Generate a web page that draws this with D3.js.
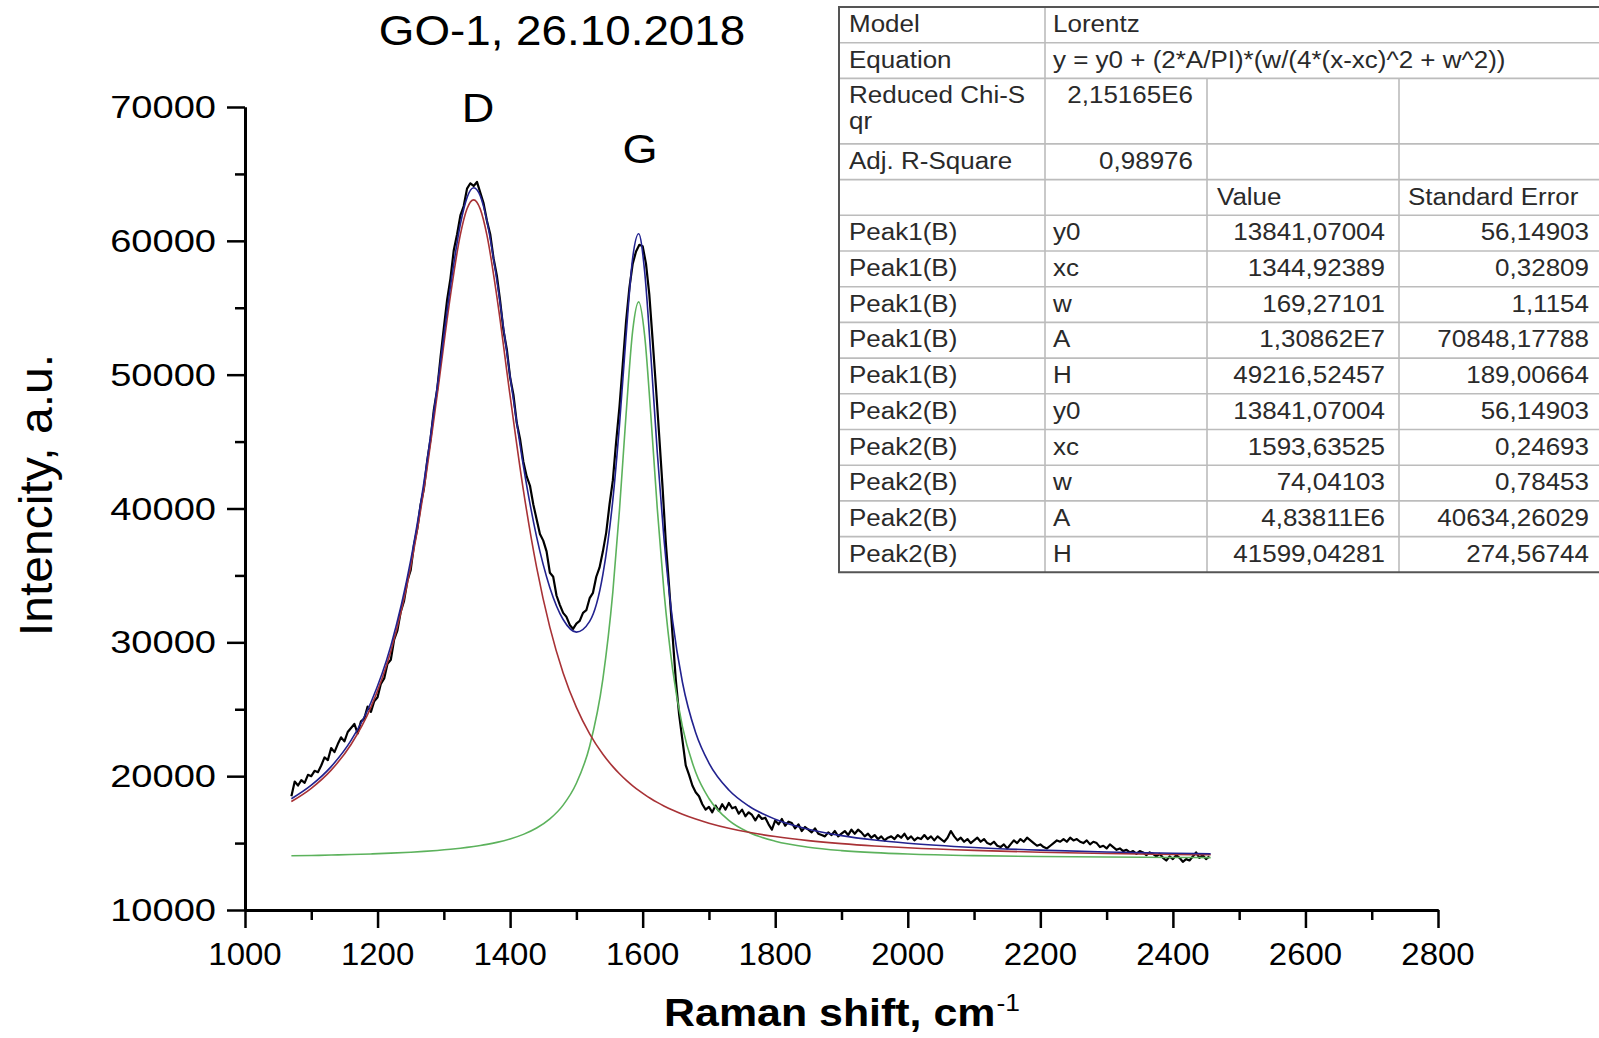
<!DOCTYPE html>
<html>
<head>
<meta charset="utf-8">
<script src="https://cdn.jsdelivr.net/npm/d3@7"></script>
<style>
  body { margin: 0; background: #fff; }
  text { font-family: "Liberation Sans", Arial, sans-serif; }
</style>
</head>
<body>
<div id="chart"></div>
<script>
// measured spectrum, one reading every 5 cm-1 from 1070
var shiftStart = 1070, shiftStep = 5;
var intensity = [
  18500, 19600, 19300, 19700, 19500, 20100, 20000, 20400, 20300, 20800,
  21400, 21200, 22100, 21800, 22400, 22900, 22600, 23300, 23600, 23900,
  23200, 24100, 24300, 25200, 24800, 25600, 25900, 26900, 27300, 28400,
  28700, 30200, 30900, 32300, 33100, 34600, 35400, 37300, 38500, 40300,
  41500, 43600, 45200, 47400, 48900, 51300, 53500, 55600, 57200, 59300,
  60500, 61900, 62600, 63900, 64300, 64100, 64400, 63600, 62800, 61500,
  60500, 58700, 57400, 55500, 53300, 51900, 49800, 48500, 46400, 45200,
  43500, 42400, 41700, 40300, 39200, 38100, 37600, 36800, 35200, 34900,
  33500, 32800, 32200, 31900, 31300, 31000, 31400, 31600, 32200, 32400,
  33300, 33700, 34900, 35600, 36800, 38200, 40300, 42100, 45000, 47600,
  50800, 54000, 56500, 58300, 59200, 59700, 59600, 58300, 56000, 52600,
  49100, 45400, 41600, 37400, 34100, 30600, 27200, 24600, 22700, 20800,
  20100, 19300, 18800, 18500, 17900, 17500, 17700, 17300, 17800, 17400,
  17900, 17500, 18000, 17600, 17700, 17200, 17500, 17000, 17300, 17100,
  16700, 17100, 16800, 16900, 16400, 16000, 16700, 16400, 16800, 16300,
  16600, 16500, 16100, 16400, 15900, 16200, 16000, 15800, 16100, 15700,
  15600, 15500, 15800, 15600, 15900, 15500, 15700, 15900, 15600, 16000,
  15700, 16000, 15800, 15500, 15700, 15400, 15600, 15300, 15500, 15200,
  15400, 15500, 15300, 15600, 15400, 15700, 15300, 15500, 15200, 15400,
  15300, 15600, 15300, 15500, 15200, 15500, 15300, 15100, 15400, 15900,
  15500, 15200, 15400, 15100, 15300, 15000, 15200, 15400, 15100, 15300,
  15000, 14900, 15100, 14800, 14700, 14900, 14600, 14900, 15200, 15000,
  15300, 15100, 15400, 15200, 15000, 14800, 14900, 14700, 14600, 14800,
  15000, 15200, 15100, 15300, 15100, 15400, 15200, 15300, 15100, 15000,
  15200, 14900, 15100, 15000, 14700, 14800, 14600, 14900, 14700, 14500,
  14600, 14400, 14500, 14300, 14400, 14200, 14400, 14300, 14100, 14300,
  14200, 14000, 14200, 13900, 13700, 14000, 13800, 14100, 13900, 13600,
  13800, 13700, 14000, 14300, 13900, 14100, 13800, 14000
];

// fitted curves read at these shifts
var fitShift = [1070, 1100, 1130, 1160, 1190, 1220, 1250, 1270, 1290, 1310,
  1325, 1335, 1345, 1355, 1365, 1380, 1400, 1420, 1440, 1460,
  1480, 1500, 1520, 1540, 1555, 1565, 1575, 1585, 1594, 1603,
  1612, 1622, 1632, 1645, 1660, 1680, 1700, 1730, 1760, 1800,
  1850, 1900, 1950, 2000, 2100, 2200, 2300, 2400, 2457];
var peakD = [18102, 19093, 20450, 22368, 25158, 29329, 35645, 41443, 48484, 55907,
  60480, 62394, 63058, 62367, 60430, 55835, 48408, 41378, 35594, 31114,
  27713, 25135, 23162, 21637, 20713, 20182, 19707, 19281, 18935, 18620,
  18332, 18041, 17776, 17468, 17153, 16793, 16487, 16109, 15806, 15486,
  15185, 14959, 14785, 14649, 14452, 14319, 14225, 14156, 14124];
var peakG = [14048, 14074, 14105, 14142, 14188, 14246, 14318, 14378, 14450, 14538,
  14617, 14677, 14744, 14819, 14904, 15054, 15308, 15650, 16124, 16808,
  17835, 19468, 22240, 27276, 33771, 39891, 47056, 53309, 55440, 52919,
  47200, 40027, 33879, 28050, 23706, 20293, 18333, 16695, 15803, 15138,
  14690, 14440, 14285, 14183, 14062, 13995, 13955, 13928, 13917];
var cumulative = [18309, 19326, 20714, 22669, 25505, 29734, 36122, 41980, 49093, 56604,
  61256, 63230, 63961, 63345, 61493, 57048, 49875, 43187, 37877, 34081,
  31707, 30762, 31561, 35072, 40643, 46232, 52922, 58749, 60534, 57698,
  51691, 44227, 37814, 31677, 27018, 23245, 20979, 18963, 17768, 16783,
  16034, 15558, 15229, 14991, 14673, 14473, 14339, 14243, 14207];

var xTicks = [1000, 1200, 1400, 1600, 1800, 2000, 2200, 2400, 2600, 2800];
var yTicks = [10000, 20000, 30000, 40000, 50000, 60000, 70000];

// fit report
var modelRow = ["Model", "Lorentz"];
var equationRow = ["Equation", "y = y0 + (2*A/PI)*(w/(4*(x-xc)^2 + w^2))"];
var chiRow = ["Reduced Chi-S", "qr", "2,15165E6"];
var r2Row = ["Adj. R-Square", "0,98976"];
var headRow = ["Value", "Standard Error"];
var paramPeak = ["Peak1(B)", "Peak1(B)", "Peak1(B)", "Peak1(B)", "Peak1(B)",
  "Peak2(B)", "Peak2(B)", "Peak2(B)", "Peak2(B)", "Peak2(B)"];
var paramName = ["y0", "xc", "w", "A", "H", "y0", "xc", "w", "A", "H"];
var paramValue = ["13841,07004", "1344,92389", "169,27101", "1,30862E7", "49216,52457",
  "13841,07004", "1593,63525", "74,04103", "4,83811E6", "41599,04281"];
var paramError = ["56,14903", "0,32809", "1,1154", "70848,17788", "189,00664",
  "56,14903", "0,24693", "0,78453", "40634,26029", "274,56744"];

var width = 1599, height = 1038;

var svg = d3.select("#chart").append("svg")
    .attr("width", width)
    .attr("height", height)
    .style("display", "block");

svg.append("rect").attr("width", width).attr("height", height).attr("fill", "#fff");

var x = d3.scaleLinear().domain([1000, 2800]).range([245, 1438]);
var y = d3.scaleLinear().domain([10000, 70000]).range([910, 107]);

// text helper, origin charts come out a bit wide
function put_text(parent, tx, ty, str, size, anchor, stretch, weight, rot) {
  return parent.append("text")
    .attr("transform", "translate(" + tx + "," + ty + ")" + (rot ? " rotate(" + rot + ")" : "") + " scale(" + stretch + ",1)")
    .attr("text-anchor", anchor)
    .style("font-size", size + "px")
    .style("font-weight", weight || "normal")
    .text(str);
}

// axes
var minorX = d3.range(1000, 2801, 100).filter(function(v) { return xTicks.indexOf(v) < 0; });
var minorY = d3.range(15000, 70000, 10000);

function style_axis(g) {
  g.select(".domain").attr("stroke", "#000").attr("stroke-width", 3);
  g.selectAll(".tick line").attr("stroke", "#000").attr("stroke-width", 2.5);
}

svg.append("g").attr("transform", "translate(245,0)")
  .call(d3.axisLeft(y).tickValues(minorY).tickSize(10).tickSizeOuter(0).tickFormat(""))
  .call(style_axis);
svg.append("g").attr("transform", "translate(245,0)")
  .call(d3.axisLeft(y).tickValues(yTicks).tickSize(18).tickSizeOuter(0).tickFormat(""))
  .call(style_axis);
svg.append("g").attr("transform", "translate(0,910)")
  .call(d3.axisBottom(x).tickValues(minorX).tickSize(10).tickSizeOuter(0).tickFormat(""))
  .call(style_axis);
svg.append("g").attr("transform", "translate(0,910)")
  .call(d3.axisBottom(x).tickValues(xTicks).tickSize(18).tickSizeOuter(0).tickFormat(""))
  .call(style_axis);

yTicks.forEach(function(v) {
  put_text(svg, 216, y(v) + 11, v, 32, "end", 1.19);
});
xTicks.forEach(function(v) {
  put_text(svg, x(v), 965, v, 32, "middle", 1.03);
});

// titles
put_text(svg, 562, 45, "GO-1, 26.10.2018", 42, "middle", 1.09);
put_text(svg, 52, 495, "Intencity, a.u.", 46, "middle", 1.045, "normal", -90);

var xt = svg.append("g");
var xtMain = put_text(xt, 0, 1026, "Raman shift, cm", 39, "start", 1.1, "bold");
var mainW = xtMain.node().getComputedTextLength() * 1.1;
var xtSup = put_text(xt, mainW + 1, 1011, "-1", 24, "start", 1.1);
var supW = xtSup.node().getComputedTextLength() * 1.1;
xt.attr("transform", "translate(" + ((245 + 1438) / 2 - (mainW + supW) / 2) + ",0)");

put_text(svg, 478, 122, "D", 41, "middle", 1.1);
put_text(svg, 640, 163, "G", 41, "middle", 1.1);

// curves
var shifts = d3.range(shiftStart, 2456, shiftStep);
var spectrum = shifts.map(function(s, i) { return [s, intensity[i]]; });

var line = d3.line().x(function(d) { return x(d[0]); }).y(function(d) { return y(d[1]); });
var smooth = d3.line().curve(d3.curveMonotoneX)
  .x(function(d) { return x(d[0]); }).y(function(d) { return y(d[1]); });

function fit_pts(vals) {
  return fitShift.map(function(s, i) { return [s, vals[i]]; });
}

svg.append("path").datum(spectrum).attr("d", line)
  .attr("fill", "none").attr("stroke", "#000").attr("stroke-width", 2.2).attr("stroke-linejoin", "round");
svg.append("path").datum(fit_pts(peakG)).attr("d", smooth)
  .attr("fill", "none").attr("stroke", "#5cb25c").attr("stroke-width", 1.6);
svg.append("path").datum(fit_pts(peakD)).attr("d", smooth)
  .attr("fill", "none").attr("stroke", "#a83236").attr("stroke-width", 1.6);
svg.append("path").datum(fit_pts(cumulative)).attr("d", smooth)
  .attr("fill", "none").attr("stroke", "#22228f").attr("stroke-width", 1.6);

// fit report table
var tbl = svg.append("g");
var colX = [839, 1045, 1207, 1399, 1603];
var rowH = 35.7;
var rowHeights = [rowH, rowH, 65.5, rowH, rowH].concat(paramPeak.map(function() { return rowH; }));
var rowY = [7];
rowHeights.forEach(function(h, i) { rowY.push(rowY[i] + h); });
var tTop = rowY[0], tBot = rowY[rowY.length - 1];

tbl.append("rect").attr("x", colX[0]).attr("y", tTop)
  .attr("width", colX[4] - colX[0]).attr("height", tBot - tTop).attr("fill", "#fff");

rowY.slice(1, -1).forEach(function(ry) {
  tbl.append("line").attr("x1", colX[0]).attr("x2", colX[4]).attr("y1", ry).attr("y2", ry)
    .attr("stroke", "#bcbcbc").attr("stroke-width", 1.6);
});
tbl.append("line").attr("x1", colX[1]).attr("x2", colX[1]).attr("y1", tTop).attr("y2", tBot)
  .attr("stroke", "#bcbcbc").attr("stroke-width", 1.6);
[colX[2], colX[3]].forEach(function(cx) {
  tbl.append("line").attr("x1", cx).attr("x2", cx).attr("y1", rowY[2]).attr("y2", tBot)
    .attr("stroke", "#bcbcbc").attr("stroke-width", 1.6);
});
tbl.append("path")
  .attr("d", "M" + (colX[4] + 5) + "," + tTop + "H" + colX[0] + "V" + tBot + "H" + (colX[4] + 5))
  .attr("fill", "none").attr("stroke", "#555").attr("stroke-width", 2);

var ts = 23, st = 1.13, base = 25;
function cell(str, col, row, align, dy) {
  var tx = align === "end" ? colX[col + 1] - 14 : colX[col] + (col === 0 ? 10 : 8);
  if (col === 2 && align !== "end") tx = colX[col] + 10;
  if (col === 3 && align !== "end") tx = colX[col] + 9;
  put_text(tbl, tx, rowY[row] + base + (dy || 0), str, ts, align, st).attr("fill", "#2a2a2a");
}
cell(modelRow[0], 0, 0, "start");
cell(modelRow[1], 1, 0, "start");
cell(equationRow[0], 0, 1, "start");
cell(equationRow[1], 1, 1, "start");
cell(chiRow[0], 0, 2, "start");
cell(chiRow[1], 0, 2, "start", 26);
cell(chiRow[2], 1, 2, "end");
cell(r2Row[0], 0, 3, "start");
cell(r2Row[1], 1, 3, "end");
cell(headRow[0], 2, 4, "start");
cell(headRow[1], 3, 4, "start");
paramPeak.forEach(function(p, i) {
  cell(p, 0, 5 + i, "start");
  cell(paramName[i], 1, 5 + i, "start");
  cell(paramValue[i], 2, 5 + i, "end");
  cell(paramError[i], 3, 5 + i, "end");
});
</script>
</body>
</html>
